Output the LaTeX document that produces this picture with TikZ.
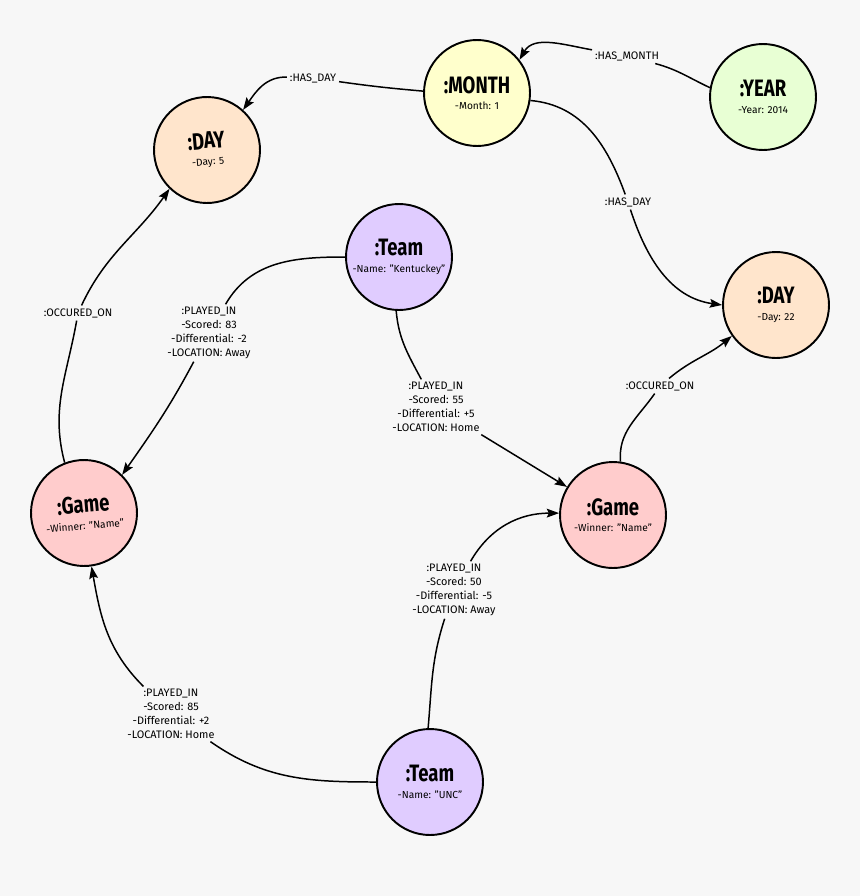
\documentclass[tikz,border=0pt]{standalone}
\usepackage{fontspec}
\setmainfont{Fira Sans}
\newfontfamily\titlefam{Fira Sans}[FakeStretch=0.78]
\usetikzlibrary{arrows.meta}

\definecolor{bgcol}{RGB}{247,247,247}
\definecolor{monthcol}{RGB}{255,255,204}
\definecolor{yearcol}{RGB}{232,255,212}
\definecolor{daycol}{RGB}{255,229,204}
\definecolor{teamcol}{RGB}{224,204,255}
\definecolor{gamecol}{RGB}{255,204,204}

\newcommand\enttitle[1]{{\titlefam\bfseries\fontsize{13.5}{15}\selectfont #1}}

\begin{document}
\begin{tikzpicture}[x=0.02cm,y=0.02cm,
    ent/.style={circle,draw,line width=1.1pt,minimum size=2.12cm,inner sep=0pt,
      align=center,font=\fontsize{5.8}{9.5}\selectfont},
    rel/.style={line width=0.85pt,-{Stealth[length=7pt,width=5pt,inset=1.2pt]}},
    lbl/.style={inner sep=1.5pt,align=center,font=\fontsize{6.2}{7.9}\selectfont}]
	\useasboundingbox (0,0) rectangle (860,-896);
	\fill[bgcol] (0,0) rectangle (860,-896);
	% entita
	\node[ent,fill=monthcol] (month) at (477,-93) {\enttitle{:MONTH}\\-Month: 1};
	\node[ent,fill=yearcol] (year) at (763,-97) {\enttitle{:YEAR}\\-Year: 2014};
	\node[ent,fill=daycol,rotate=5] (day5) at (207,-150) {\enttitle{:DAY}\\-Day: 5};
	\node[ent,fill=daycol] (day22) at (776,-305) {\enttitle{:DAY}\\-Day: 22};
	\node[ent,fill=teamcol] (kent) at (399,-257) {\enttitle{:Team}\\-Name: "Kentuckey"};
	\node[ent,fill=gamecol,rotate=5] (gamel) at (84,-513) {\enttitle{:Game}\\-Winner: "Name"};
	\node[ent,fill=gamecol] (gamer) at (613,-515) {\enttitle{:Game}\\-Winner: "Name"};
	\node[ent,fill=teamcol] (unc) at (430,-782) {\enttitle{:Team}\\-Name: "UNC"};
	% etichette
	\node[lbl] (hm) at (627,-56) {:HAS\_MONTH};
	\node[lbl] (hd1) at (313,-78) {:HAS\_DAY};
	\node[lbl] (hd2) at (628,-202) {:HAS\_DAY};
	\node[lbl] (oc1) at (78,-313) {:OCCURED\_ON};
	\node[lbl] (oc2) at (660,-386) {:OCCURED\_ON};
	\node[lbl] (p83) at (209,-333) {:PLAYED\_IN\\-Scored: 83\\-Differential: -2\\-LOCATION: Away};
	\node[lbl] (p55) at (436,-407) {:PLAYED\_IN\\-Scored: 55\\-Differential: +5\\-LOCATION: Home};
	\node[lbl] (p50) at (454,-590) {:PLAYED\_IN\\-Scored: 50\\-Differential: -5\\-LOCATION: Away};
	\node[lbl] (p85) at (171,-714) {:PLAYED\_IN\\-Scored: 85\\-Differential: +2\\-LOCATION: Home};
	% relazioni
	\draw[rel] (year.170) to[out=155,in=-15] (hm) to[out=170,in=60] (month.38);
	\draw[rel] (month.178) to[out=175,in=-8] (hd1) to[out=178,in=55] (day5.43);
	\draw[rel] (month.-8) to[out=-5,in=110] (hd2) to[out=-72,in=172] (day22.180);
	\draw[rel] (gamel.106) to[out=105,in=-100] (oc1) to[out=65,in=-125] (day5.-139);
	\draw[rel] (gamer.82) to[out=95,in=-125] (oc2) to[out=40,in=-140] (day22.-145);
	\draw[rel] (kent.180) to[out=180,in=60] (p83) to[out=-118,in=55] (gamel.40);
	\draw[rel] (kent.-93) to[out=-85,in=118] (p55) -- (gamer);
	\draw[rel] (unc.92) to[out=85,in=-108] (p50) to[out=60,in=180] (gamer.178);
	\draw[rel] (unc.180) to[out=180,in=-35] (p85) to[out=135,in=-80] (gamel.-87);
\end{tikzpicture}
\end{document}
